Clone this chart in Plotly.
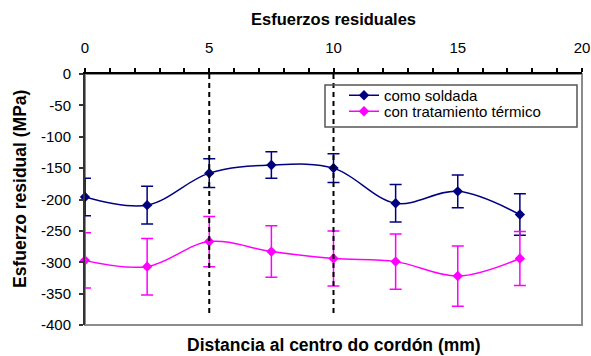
import plotly.graph_objects as go

# ---- data ----
distancia = [0, 2.5, 5, 7.5, 10, 12.5, 15, 17.5]
como_soldada = [-196, -209, -158, -145, -150, -206, -187, -224]
como_soldada_err = [30, 30, 23, 21, 23, 30, 26, 33]
tratamiento = [-297, -307, -267, -283, -294, -299, -322, -294]
tratamiento_err = [44, 45, 40, 41, 44, 44, 48, 43]

x_range = [0, 20]
y_range = [-400, 0]
x_tick_vals = [0, 5, 10, 15, 20]
x_tick_labels = ["0", "5", "10", "15", "20"]
y_tick_vals = [0, -50, -100, -150, -200, -250, -300, -350, -400]
y_tick_labels = ["0", "-50", "-100", "-150", "-200", "-250", "-300", "-350", "-400"]
guide_x = [5, 10]
guide_y = [0, -387]

title_text = "Esfuerzos residuales"
x_title = "Distancia al centro do cordón (mm)"
y_title = "Esfuerzo residual (MPa)"
name_1 = "como soldada"
name_2 = "con tratamiento térmico"

FONT = "Liberation Sans, Arial, sans-serif"
NAVY = "#000080"
MAGENTA = "#FF00FF"

# plot area in pixels
L, R, T, B = 85, 582, 74, 325
PW, PH = R - L, B - T


def px_x(p):
    return (p - L) / PW


def px_y(p):
    return (B - p) / PH


fig = go.Figure()

fig.add_trace(go.Scatter(
    x=distancia, y=como_soldada, name=name_1, mode="lines+markers",
    line=dict(color=NAVY, width=1.5, shape="spline", smoothing=1),
    marker=dict(symbol="diamond", size=8, color=NAVY),
    error_y=dict(type="data", array=como_soldada_err, visible=True,
                 color=NAVY, thickness=1.5, width=6),
    cliponaxis=False, legend="legend",
))
fig.add_trace(go.Scatter(
    x=distancia, y=tratamiento, name=name_2, mode="lines+markers",
    line=dict(color=MAGENTA, width=1.5, shape="spline", smoothing=1),
    marker=dict(symbol="diamond", size=8, color=MAGENTA),
    error_y=dict(type="data", array=tratamiento_err, visible=True,
                 color=MAGENTA, thickness=1.5, width=6),
    cliponaxis=False, legend="legend2",
))

# plot-area border (grey bottom/right)
fig.add_shape(type="rect", xref="paper", yref="paper", x0=0, x1=1, y0=0, y1=1,
              line=dict(color="#8c8c8c", width=2), layer="below")

# dashed guide lines
for gx in guide_x:
    fig.add_shape(type="line", xref="x", yref="y", x0=gx, x1=gx,
                  y0=guide_y[0], y1=guide_y[1],
                  line=dict(color="black", width=2, dash="5px,4px"))

# legend box (transparent)
fig.add_shape(type="rect", xref="paper", yref="paper",
              x0=px_x(325), x1=px_x(577), y0=px_y(127), y1=px_y(85),
              line=dict(color="#555555", width=1.5))

legend_common = dict(xanchor="left", yanchor="top", bgcolor="rgba(0,0,0,0)",
                     borderwidth=0, font=dict(family=FONT, size=15, color="black"))

fig.update_layout(
    width=591, height=356,
    margin=dict(l=L, r=591 - R, t=T, b=356 - B, pad=0),
    paper_bgcolor="white", plot_bgcolor="white",
    font=dict(family=FONT, size=15, color="black"),
    title=dict(text=title_text, x=0.5, xref="paper", xanchor="center",
               y=1 - 19 / 356, yref="container", yanchor="middle",
               font=dict(family=FONT, size=16.5, color="black", weight="bold")),
    showlegend=True,
    legend=dict(x=px_x(344), y=px_y(79), **legend_common),
    legend2=dict(x=px_x(344), y=px_y(95), **legend_common),
    xaxis=dict(range=x_range, side="top", tickvals=x_tick_vals, ticktext=x_tick_labels,
               ticks="outside", ticklen=4, tickwidth=1.5, tickcolor="black",
               minor=dict(dtick=1, ticks="outside", ticklen=4, tickwidth=1.5, tickcolor="black"),
               showline=True, linecolor="black", linewidth=2,
               showgrid=False, zeroline=False, automargin=False,
               ticklabelstandoff=9,
               tickfont=dict(family=FONT, size=15, color="black")),
    yaxis=dict(range=y_range, tickvals=y_tick_vals, ticktext=y_tick_labels,
               ticks="outside", ticklen=4, tickwidth=1.5, tickcolor="#333333",
               showline=True, linecolor="#333333", linewidth=2,
               showgrid=False, zeroline=False, automargin=False,
               ticklabelstandoff=5,
               tickfont=dict(family=FONT, size=15, color="black")),
)

fig.add_annotation(text=x_title, xref="paper", yref="paper", x=0.5, y=0,
                   yshift=-20, xanchor="center", yanchor="middle", showarrow=False,
                   font=dict(family=FONT, size=17.5, color="black", weight="bold"))
fig.add_annotation(text=y_title, xref="paper", yref="paper",
                   x=px_x(20), y=px_y(189), textangle=-90,
                   xanchor="center", yanchor="middle", showarrow=False,
                   font=dict(family=FONT, size=17.5, color="black", weight="bold"))

fig.write_html("out.html")
